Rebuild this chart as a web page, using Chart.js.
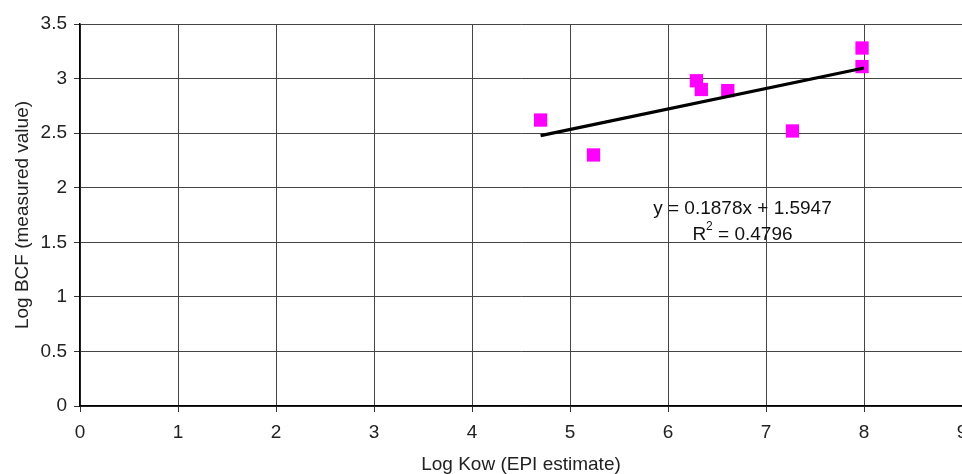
<!DOCTYPE html>
<html>
<head>
<meta charset="utf-8">
<script src="https://cdn.jsdelivr.net/npm/chart.js@4"></script>
<style>
  html, body { margin: 0; padding: 0; background: #fff; overflow: hidden; }
  #wrap { position: relative; width: 1000px; height: 474px; }
</style>
</head>
<body>
<div id="wrap"><canvas id="c"></canvas></div>
<script>
// Data
const logKow = [4.70, 5.24, 6.29, 6.34, 6.61, 7.27, 7.98, 7.98];
const logBCF = [2.62, 2.30, 2.98, 2.90, 2.89, 2.52, 3.28, 3.11];
const trendSlope = 0.1878;
const trendIntercept = 1.5947;
const trendRange = [4.70, 8.00];
const xTicks = [0, 1, 2, 3, 4, 5, 6, 7, 8, 9];
const yTicks = [0, 0.5, 1, 1.5, 2, 2.5, 3, 3.5];
const eqLine1 = 'y = 0.1878x + 1.5947';
const eqR2 = '0.4796';

const FONT = '"Liberation Sans", Arial, sans-serif';

const scatterPts = logKow.map((x, i) => ({ x, y: logBCF[i] }));
const trendPts = trendRange.map(x => ({ x, y: trendSlope * x + trendIntercept }));

const eqPlugin = {
  id: 'eq',
  afterDatasetsDraw(chart) {
    const { ctx, scales: { x, y } } = chart;
    const cx = x.getPixelForValue(6.76);
    const y1 = y.getPixelForValue(1.804);
    const y2 = y.getPixelForValue(1.566);
    ctx.save();
    ctx.fillStyle = '#111';
    ctx.textBaseline = 'middle';
    ctx.font = '19px ' + FONT;
    ctx.textAlign = 'center';
    ctx.fillText(eqLine1, cx, y1);
    const partR = 'R';
    const partRest = ' = ' + eqR2;
    const wR = ctx.measureText(partR).width;
    const wRest = ctx.measureText(partRest).width;
    ctx.font = '12px ' + FONT;
    const wSup = ctx.measureText('2').width;
    const total = wR + wSup + wRest;
    let sx = cx - total / 2;
    ctx.textAlign = 'left';
    ctx.font = '19px ' + FONT;
    ctx.fillText(partR, sx, y2);
    sx += wR;
    ctx.font = '12px ' + FONT;
    ctx.fillText('2', sx, y2 - 8);
    sx += wSup;
    ctx.font = '19px ' + FONT;
    ctx.fillText(partRest, sx, y2);
    ctx.restore();
  }
};

new Chart(document.getElementById('c'), {
  type: 'scatter',
  data: {
    datasets: [
      {
        type: 'line',
        label: 'trend',
        data: trendPts,
        borderColor: '#000',
        borderWidth: 3.2,
        pointRadius: 0,
        fill: false,
        order: 0
      },
      {
        label: 'data',
        data: scatterPts,
        backgroundColor: '#ff00ff',
        borderWidth: 0,
        pointStyle: 'rect',
        pointRadius: 9.4,
        pointHoverRadius: 9.4,
        order: 1
      }
    ]
  },
  options: {
    responsive: true,
    maintainAspectRatio: false,
    animation: false,
    events: [],
    layout: { padding: { top: 24, right: 38, left: 0, bottom: 0 } },
    plugins: { legend: { display: false }, tooltip: { enabled: false } },
    scales: {
      x: {
        type: 'linear',
        min: 0, max: 9,
        afterBuildTicks: s => { s.ticks = xTicks.map(v => ({ value: v })); },
        afterFit: s => { s.height = 68; },
        grid: { color: '#444', lineWidth: 1, tickLength: 6, tickColor: '#333' },
        border: { color: '#000', width: 1.5 },
        ticks: { color: '#222', font: { family: FONT, size: 19 }, padding: 9, maxRotation: 0,
                 callback: v => String(v) },
        title: { display: true, text: 'Log Kow (EPI estimate)', color: '#222',
                 font: { family: FONT, size: 19, lineHeight: 1 }, padding: { top: 0, bottom: 0 } }
      },
      y: {
        type: 'linear',
        min: 0, max: 3.5,
        afterBuildTicks: s => { s.ticks = yTicks.map(v => ({ value: v })); },
        afterFit: s => { s.width = 80; },
        grid: { color: '#444', lineWidth: 1, tickLength: 6, tickColor: '#333' },
        border: { color: '#000', width: 1.5 },
        ticks: { color: '#222', font: { family: FONT, size: 19 }, padding: 7,
                 callback: v => String(v) },
        title: { display: true, text: 'Log BCF (measured value)', color: '#222',
                 font: { family: FONT, size: 19, lineHeight: 1 }, padding: { top: 13, bottom: 0 } }
      }
    }
  },
  plugins: [eqPlugin]
});
</script>
</body>
</html>
